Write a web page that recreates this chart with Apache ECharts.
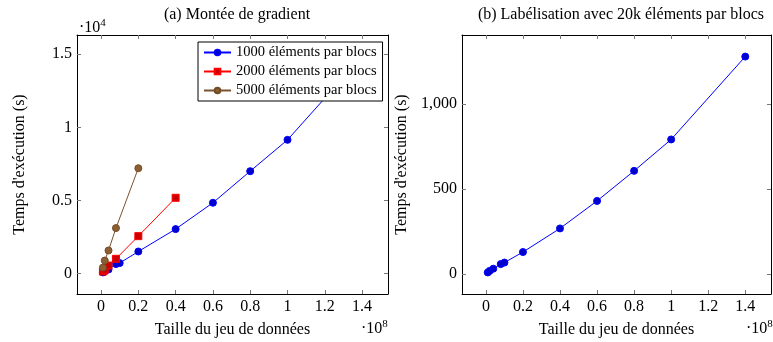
<!DOCTYPE html>
<html>
<head>
<meta charset="utf-8">
<script src="https://cdn.jsdelivr.net/npm/echarts@6/dist/echarts.min.js"></script>
<style>
html,body{margin:0;padding:0;background:#fff;}
#container{width:773px;height:342px;}
</style>
</head>
<body>
<div id="container"></div>
<script>
// taille du jeu de donnees (nombre d'elements)
var tailles = [1e6, 2e6, 4e6, 8e6, 10e6, 20e6, 40e6, 60e6, 80e6, 100e6, 140e6];
var taillesRouge = [1e6, 2e6, 4e6, 8e6, 20e6, 40e6];
var taillesMarron = [1e6, 2e6, 4e6, 8e6, 20e6];
// temps (s) - montee de gradient
var temps1000 = [90, 150, 290, 660, 730, 1520, 3050, 4850, 7010, 9150, 14840];
var temps2000 = [150, 280, 560, 1020, 2570, 5190];
var temps5000 = [420, 900, 1590, 3120, 7210];
// temps (s) - labelisation 20k
var tempsLabel = [8, 17, 30, 57, 66, 128, 267, 429, 606, 791, 1279];

var xTicks = [0, 20e6, 40e6, 60e6, 80e6, 100e6, 120e6, 140e6];
var yTicksA = [0, 5000, 10000, 15000];
var yTicksB = [0, 500, 1000];
var noms = ['1000 éléments par blocs', '2000 éléments par blocs', '5000 éléments par blocs'];

function paires(xs, ys){
	var a = [];
	for (var i = 0; i < xs.length; ++i) a.push([xs[i], ys[i]]);
	return a;
}

var police = 'Liberation Serif';
var tickStyle = {show: true, inside: true, length: 4, lineStyle: {color: '#777', width: 1}};
var lineAxe = {show: true, onZero: false, lineStyle: {color: '#000', width: 1}};

function axeX(grid, pos, labels){
	return {
		type: 'value', gridIndex: grid, position: pos,
		min: -12.9e6, max: 153.9e6,
		axisLine: lineAxe, splitLine: {show: false},
		axisTick: Object.assign({customValues: xTicks}, tickStyle),
		axisLabel: {show: labels, customValues: xTicks, margin: 5, color: '#000', fontFamily: police, fontSize: 16,
			formatter: function(v){ return String(Math.round(v / 1e6) / 100); }},
		name: labels ? 'Taille du jeu de données' : '', nameLocation: 'middle', nameGap: 28,
		nameTextStyle: {color: '#000', fontFamily: police, fontSize: 16}
	};
}
function axeY(grid, pos, labels, min, max, ticks, fmt){
	return {
		type: 'value', gridIndex: grid, position: pos,
		min: min, max: max,
		axisLine: lineAxe, splitLine: {show: false},
		axisTick: Object.assign({customValues: ticks}, tickStyle),
		axisLabel: {show: labels, customValues: ticks, margin: 5, color: '#000', fontFamily: police, fontSize: 16, formatter: fmt},
		name: labels ? "Temps d'exécution (s)" : '', nameLocation: 'middle', nameRotate: 90,
		nameGap: grid === 0 ? 49 : 52,
		nameTextStyle: {color: '#000', fontFamily: police, fontSize: 16}
	};
}

var superRich = {
	b: {fontFamily: police, fontSize: 16, fontWeight: 'normal', color: '#000'},
	s: {fontFamily: police, fontSize: 11, fontWeight: 'normal', color: '#000', verticalAlign: 'bottom', padding: [0, 0, 8, 0]}
};

var option = {
	animation: false,
	backgroundColor: '#fff',
	title: [
		{text: '(a) Montée de gradient', left: 232, top: 2, textAlign: 'center',
			textStyle: {fontFamily: police, fontSize: 16, fontWeight: 'normal', color: '#000'}},
		{text: '(b) Labélisation avec 20k éléments par blocs', left: 616, top: 2, textAlign: 'center',
			textStyle: {fontFamily: police, fontSize: 16, fontWeight: 'normal', color: '#000'}},
		{text: '{b|·10}{s|4}', left: 74, top: 13, textStyle: {fontWeight: 'normal', rich: superRich}},
		{text: '{b|·10}{s|8}', left: 356, top: 314, textStyle: {fontWeight: 'normal', rich: superRich}},
		{text: '{b|·10}{s|8}', left: 741, top: 314, textStyle: {fontWeight: 'normal', rich: superRich}}
	],
	grid: [
		{left: 77, top: 35, width: 311, height: 259, outerBoundsMode: 'none'},
		{left: 462, top: 35, width: 309, height: 259, outerBoundsMode: 'none'}
	],
	legend: {
		left: 198, top: 42, orient: 'vertical',
		data: noms,
		backgroundColor: '#fff', borderColor: '#000', borderWidth: 1,
		padding: [3, 6, 3, 5], itemGap: 4, itemWidth: 27, itemHeight: 7,
		textStyle: {fontFamily: police, fontSize: 14.5, color: '#000'}
	},
	xAxis: [
		axeX(0, 'bottom', true), axeX(0, 'top', false),
		axeX(1, 'bottom', true), axeX(1, 'top', false)
	],
	yAxis: [
		axeY(0, 'left', true, -1385, 16315, yTicksA, function(v){ return String(v / 1e4); }),
		axeY(0, 'right', false, -1385, 16315, yTicksA),
		axeY(1, 'left', true, -119.1, 1406.1, yTicksB, function(v){ return v >= 1000 ? (Math.floor(v / 1000) + ',' + String(v % 1000).padStart(3, '0')) : String(v); }),
		axeY(1, 'right', false, -119.1, 1406.1, yTicksB)
	],
	series: [
		{name: noms[0], type: 'line', xAxisIndex: 0, yAxisIndex: 0, data: paires(tailles, temps1000),
			symbol: 'circle', symbolSize: 7, lineStyle: {color: '#0000ff', width: 1},
			itemStyle: {color: '#0000cc', borderColor: '#0000ff', borderWidth: 1}},
		{name: noms[1], type: 'line', xAxisIndex: 0, yAxisIndex: 0, data: paires(taillesRouge, temps2000),
			symbol: 'rect', symbolSize: 7, lineStyle: {color: '#ff0000', width: 1},
			itemStyle: {color: '#cc0000', borderColor: '#ff0000', borderWidth: 1}},
		{name: noms[2], type: 'line', xAxisIndex: 0, yAxisIndex: 0, data: paires(taillesMarron, temps5000),
			symbol: 'circle', symbolSize: 7, lineStyle: {color: '#7a5230', width: 1},
			itemStyle: {color: '#8c5e33', borderColor: '#734d26', borderWidth: 1}},
		{name: 'label', type: 'line', xAxisIndex: 2, yAxisIndex: 2, data: paires(tailles, tempsLabel),
			symbol: 'circle', symbolSize: 7, lineStyle: {color: '#0000ff', width: 1},
			itemStyle: {color: '#0000cc', borderColor: '#0000ff', borderWidth: 1}}
	]
};

var myChart = echarts.init(document.getElementById('container'));
myChart.setOption(option);
</script>
</body>
</html>
